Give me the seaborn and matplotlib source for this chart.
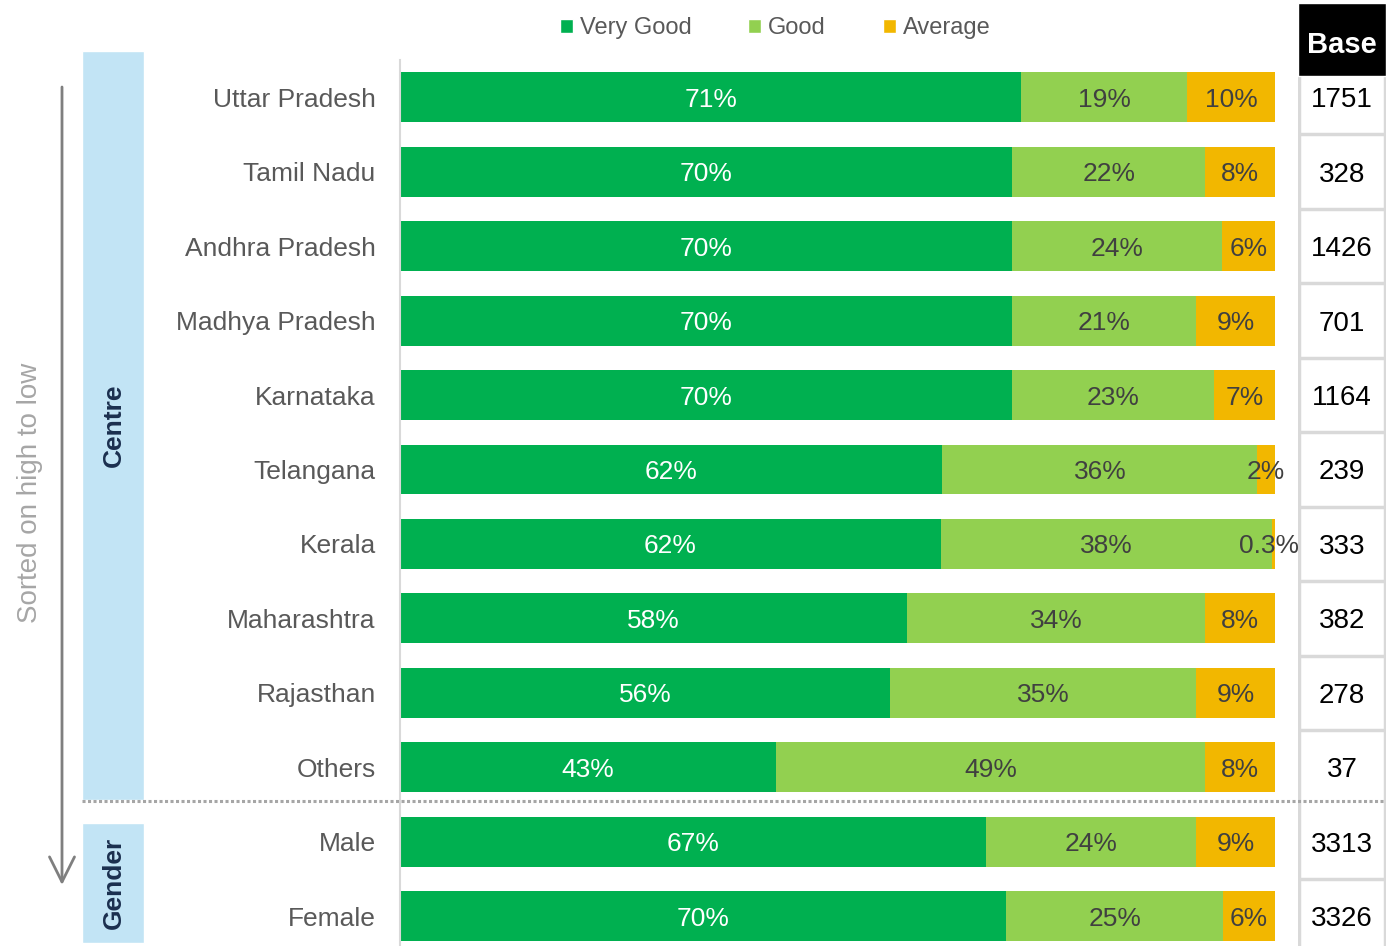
import pandas as pd
import matplotlib
matplotlib.use("Agg")
import matplotlib.pyplot as plt
import seaborn as sns
from matplotlib.patches import Rectangle, Patch
from matplotlib.lines import Line2D

# data
categories = ["Uttar Pradesh", "Tamil Nadu", "Andhra Pradesh", "Madhya Pradesh",
              "Karnataka", "Telangana", "Kerala", "Maharashtra", "Rajasthan",
              "Others", "Male", "Female"]
very_good = [71, 70, 70, 70, 70, 62, 62, 58, 56, 43, 67, 70]
good = [19, 22, 24, 21, 23, 36, 38, 34, 35, 49, 24, 25]
average = [10, 8, 6, 9, 7, 2, 0.3, 8, 9, 8, 9, 6]
base = [1751, 328, 1426, 701, 1164, 239, 333, 382, 278, 37, 3313, 3326]
series_names = ["Very Good", "Good", "Average"]
colors = ["#00B050", "#92D050", "#F2B700"]

sns.set_style("white")
plt.rcParams["font.family"] = ["Liberation Sans", "DejaVu Sans"]

W, H = 1386, 946
def fx(px):
    return px / W
def fy(py):
    return 1 - py / H

df = pd.DataFrame({"name": categories, "vg": very_good, "good": good, "avg": average})
tot = df["vg"] + df["good"] + df["avg"]
df["vg_w"] = df["vg"] / tot * 100
df["good_w"] = df["good"] / tot * 100
df["avg_w"] = df["avg"] / tot * 100
df["cum2"] = df["vg_w"] + df["good_w"]
df["cum3"] = df["cum2"] + df["avg_w"]

fig = plt.figure(figsize=(13.86, 9.46), dpi=100)
ax = fig.add_axes([fx(400), 0, fx(1275) - fx(400), fy(60)])

for col, c in zip(["cum3", "cum2", "vg_w"], colors[::-1]):
    sns.barplot(data=df, y="name", x=col, color=c, width=0.67, saturation=1,
                linewidth=0, orient="h", ax=ax)

ax.set_xlim(0, 100)
ax.set_ylim(11.4, -0.5)
ax.set_xticks([])
ax.set_xlabel("")
ax.set_ylabel("")
ax.tick_params(axis="y", left=False, labelsize=19, labelcolor="#595959", pad=14)
for lab in ax.get_yticklabels():
    lab.set_va("center_baseline")
for s in ["top", "right", "bottom"]:
    ax.spines[s].set_visible(False)
ax.spines["left"].set_color("#D9D9D9")
ax.spines["left"].set_linewidth(1.5)

def fmt(v):
    return f"{v:g}%"

for i, r in df.iterrows():
    ax.text(r["vg_w"] / 2, i, fmt(r["vg"]), ha="center", va="center_baseline",
            color="white", fontsize=19)
    ax.text(r["vg_w"] + r["good_w"] / 2, i, fmt(r["good"]), ha="center",
            va="center_baseline", color="#404040", fontsize=19)
    ax.text(r["cum2"] + r["avg_w"] / 2 - (0.5 if r["avg"] < 1 else 0), i,
            fmt(r["avg"]), ha="center", va="center_baseline", color="#404040",
            fontsize=19)

# base column
bax = fig.add_axes([fx(1298), 0, fx(1386) - fx(1298), fy(60)])
bax.set_xlim(0, 1)
bax.set_ylim(11.4, -0.5)
bax.axis("off")
for i, b in enumerate(base):
    bax.text(0.5, i, str(b), ha="center", va="center_baseline", fontsize=20,
             color="black")
for i in range(11):
    if i == 9:
        continue
    bax.axhline(i + 0.5, color="#D9D9D9", lw=2.5)
bax.axvline(0.01, color="#D9D9D9", lw=2.5)
bax.axvline(0.99, color="#D9D9D9", lw=2.5)

fig.patches.append(Rectangle((fx(1298), fy(76)), fx(1386) - fx(1298), (76 - 3) / H,
                             transform=fig.transFigure, facecolor="black", zorder=3))
fig.text(fx(1342), fy(42), "Base", ha="center", va="center_baseline", color="white",
         fontsize=21, fontweight="bold", zorder=4)

# group boxes on the left
box_c = "#C2E4F5"
fig.patches.append(Rectangle((fx(82), fy(800)), fx(144) - fx(82), (800 - 51) / H,
                             transform=fig.transFigure, facecolor=box_c, zorder=0))
fig.patches.append(Rectangle((fx(82), fy(943)), fx(144) - fx(82), (943 - 823) / H,
                             transform=fig.transFigure, facecolor=box_c, zorder=0))
fig.text(fx(114), fy(425), "Centre", rotation=90, ha="center", va="center",
         fontsize=19, fontweight="bold", color="#1B2F4F")
fig.text(fx(114), fy(883), "Gender", rotation=90, ha="center", va="center",
         fontsize=19, fontweight="bold", color="#1B2F4F")

# sort arrow
ax.annotate("", xy=(fx(62), fy(885)), xytext=(fx(62), fy(87)),
            xycoords="figure fraction", textcoords="figure fraction",
            arrowprops=dict(arrowstyle="->,head_length=0.9,head_width=0.45",
                            color="#7F7F7F", lw=2, mutation_scale=20,
                            shrinkA=0, shrinkB=0))
fig.text(fx(30), fy(493), "Sorted on high to low", rotation=90, ha="center",
         va="center", fontsize=20, color="#A6A6A6")

# dotted separator between groups
fig.add_artist(Line2D([fx(82), 1], [fy(801), fy(801)], transform=fig.transFigure,
                      color="#A6A6A6", lw=2.2, linestyle=(0, (1, 0.8)), zorder=5))

handles = [Patch(facecolor=c) for c in colors]
fig.legend(handles, series_names, loc="center", bbox_to_anchor=(fx(775), fy(28)),
           ncol=3, frameon=False, fontsize=17, handlelength=0.55, handleheight=0.55,
           handletextpad=0.3, columnspacing=2.4, labelcolor="#595959")

fig.savefig("out.png", dpi=100)
